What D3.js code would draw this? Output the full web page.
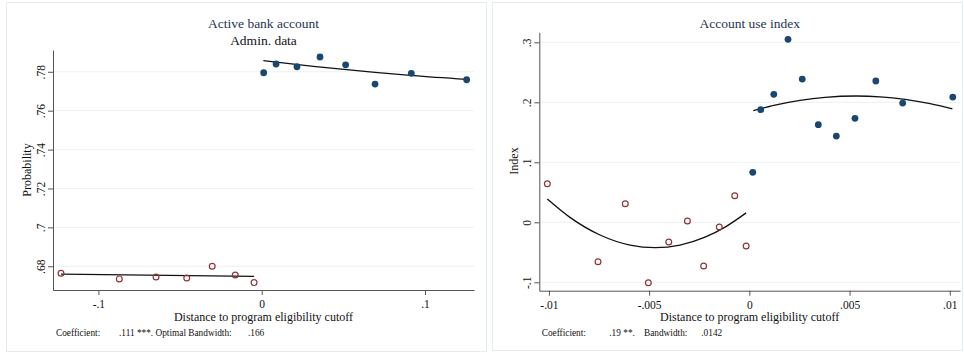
<!DOCTYPE html>
<html>
<head>
<meta charset="utf-8">
<script src="https://cdn.jsdelivr.net/npm/d3@7/dist/d3.min.js"></script>
<style>
  html, body { margin: 0; padding: 0; background: #fff; }
  svg { display: block; font-family: "Liberation Serif", "Times New Roman", serif; }
</style>
</head>
<body>
<svg id="chart" width="964" height="354"></svg>
<script>
// ---- Panel A: active bank account (admin. data) ----
const bankBelowX = [-0.1229, -0.0872, -0.0647, -0.0459, -0.0303, -0.0162, -0.0047];
const bankBelowY = [0.6764, 0.6735, 0.6745, 0.6740, 0.6800, 0.6755, 0.6716];
const bankAboveX = [0.0012, 0.0088, 0.0216, 0.0357, 0.0514, 0.0694, 0.0916, 0.1255];
const bankAboveY = [0.7795, 0.7840, 0.7826, 0.7876, 0.7836, 0.7737, 0.7792, 0.7759];
const bankFitBelowX = [-0.1229, -0.0047];
const bankFitBelowY = [0.6760, 0.6748];
const bankFitAboveX = [0.0010, 0.0316, 0.0694, 0.0928, 0.1255];
const bankFitAboveY = [0.7857, 0.7828, 0.7797, 0.7780, 0.7761];
const bankXTicks = [-0.1, 0, 0.1];
const bankXLabels = ["-.1", "0", ".1"];
const bankYTicks = [0.68, 0.70, 0.72, 0.74, 0.76, 0.78];
const bankYLabels = [".68", ".7", ".72", ".74", ".76", ".78"];

// ---- Panel B: account use index ----
const useBelowX = [-0.01008, -0.00755, -0.00619, -0.00504, -0.00402, -0.00309, -0.00228, -0.00150, -0.00073, -0.00016];
const useBelowY = [0.0643, -0.0657, 0.0310, -0.1007, -0.0328, 0.0022, -0.0728, -0.0078, 0.0443, -0.0395];
const useAboveX = [0.00017, 0.00057, 0.00122, 0.00193, 0.00264, 0.00344, 0.00434, 0.00527, 0.00631, 0.00765, 0.01015];
const useAboveY = [0.0833, 0.1877, 0.2133, 0.3050, 0.2388, 0.1627, 0.1438, 0.1733, 0.2355, 0.1988, 0.2088];
const useFitBelowX = [-0.01008, -0.00895, -0.00745, -0.00595, -0.00470, -0.00346, -0.00221, -0.00121, -0.00016];
const useFitBelowY = [0.0388, 0.0082, -0.0212, -0.0380, -0.0423, -0.0380, -0.0248, -0.0080, 0.0157];
const useFitAboveX = [0.00020, 0.00128, 0.00253, 0.00378, 0.00533, 0.00652, 0.00777, 0.00902, 0.01013];
const useFitAboveY = [0.1860, 0.1953, 0.2032, 0.2083, 0.2105, 0.2092, 0.2050, 0.1978, 0.1890];
const useXTicks = [-0.01, -0.005, 0, 0.005, 0.01];
const useXLabels = ["-.01", "-.005", "0", ".005", ".01"];
const useYTicks = [-0.1, 0, 0.1, 0.2, 0.3];
const useYLabels = ["-.1", "0", ".1", ".2", ".3"];

const COL_ABOVE = "#1a476f";
const COL_BELOW = "#90353b";
const COL_GRID = "#eaf2f3";
const COL_AXIS = "#555";
const COL_TITLE = "#1e3350";

const zip = (xs, ys) => xs.map((x, i) => ({ x, y: ys[i] }));

const svg = d3.select("#chart");

function drawPanel(p) {
  const g = svg.append("g");

  // outer frame
  g.append("rect")
    .attr("x", p.frame[0] + 0.5).attr("y", p.frame[1] + 0.5)
    .attr("width", p.frame[2]).attr("height", p.frame[3])
    .attr("fill", "#fff").attr("stroke", "#e4ecee").attr("stroke-width", 1);

  const x = d3.scaleLinear().domain(p.xDomain).range([p.plot.left, p.plot.right]);
  const y = d3.scaleLinear().domain(p.yDomain).range([p.plot.bottom, p.plot.top]);

  // horizontal gridlines
  g.append("g").selectAll("line").data(p.yTicks).join("line")
    .attr("x1", p.plot.left).attr("x2", p.plot.right)
    .attr("y1", d => y(d)).attr("y2", d => y(d))
    .attr("stroke", COL_GRID).attr("stroke-width", 1);

  // x axis
  const xa = g.append("g")
    .attr("transform", `translate(0,${p.plot.bottom})`)
    .call(d3.axisBottom(x).tickValues(p.xTicks)
      .tickFormat((d, i) => p.xLabels[i]).tickSize(5).tickSizeOuter(0));
  xa.select(".domain").attr("stroke", COL_AXIS);
  xa.selectAll(".tick line").attr("stroke", COL_AXIS);
  xa.selectAll(".tick text")
    .attr("y", 10).attr("dy", "0.71em")
    .attr("fill", "#111").style("font-size", "11.5px")
    .style("font-family", "Liberation Serif, serif");

  // y axis with vertical tick labels
  const ya = g.append("g")
    .attr("transform", `translate(${p.plot.left},0)`)
    .call(d3.axisLeft(y).tickValues(p.yTicks)
      .tickFormat((d, i) => p.yLabels[i]).tickSize(5).tickSizeOuter(0));
  ya.select(".domain").attr("stroke", COL_AXIS);
  ya.selectAll(".tick line").attr("stroke", COL_AXIS);
  ya.selectAll(".tick text")
    .attr("x", 0).attr("dy", "0.35em")
    .attr("text-anchor", "middle")
    .attr("transform", "translate(-12,0) rotate(-90)")
    .attr("fill", "#111").style("font-size", "11.5px")
    .style("font-family", "Liberation Serif, serif");

  // fitted curves on each side of the cutoff
  const line = d3.line().x(d => x(d.x)).y(d => y(d.y)).curve(d3.curveMonotoneX);
  [p.fitBelow, p.fitAbove].forEach(pts => {
    g.append("path").datum(pts)
      .attr("d", line).attr("fill", "none")
      .attr("stroke", "#111").attr("stroke-width", 1.3);
  });

  // binned means
  g.append("g").selectAll("circle").data(p.below).join("circle")
    .attr("cx", d => x(d.x)).attr("cy", d => y(d.y)).attr("r", 2.9)
    .attr("fill", "none").attr("stroke", COL_BELOW).attr("stroke-width", 1.2);
  g.append("g").selectAll("circle").data(p.above).join("circle")
    .attr("cx", d => x(d.x)).attr("cy", d => y(d.y)).attr("r", 3.4)
    .attr("fill", COL_ABOVE);

  const cx = (p.plot.left + p.plot.right) / 2;

  // titles
  p.titles.forEach((t, i) => {
    g.append("text").attr("x", cx).attr("y", 27.5 + i * 17.3)
      .attr("text-anchor", "middle")
      .attr("fill", i === 0 ? COL_TITLE : "#111")
      .style("font-size", "13.5px").text(t);
  });

  // axis titles
  g.append("text").attr("x", cx).attr("y", 321)
    .attr("text-anchor", "middle").attr("fill", "#111")
    .style("font-size", "12px").text("Distance to program eligibility cutoff");
  g.append("text")
    .attr("transform", `translate(${p.yTitleX},${p.yTitleY}) rotate(-90)`)
    .attr("dy", "0.35em").attr("text-anchor", "middle").attr("fill", "#111")
    .style("font-size", "12px").text(p.yTitle);

  // estimation note
  const note = g.append("text").attr("y", 335.5).attr("fill", "#111")
    .style("font-size", "9.3px");
  p.note.forEach(n => note.append("tspan").attr("x", n.at).text(n.text));
}

drawPanel({
  frame: [6, 2, 480, 349],
  plot: { left: 53, right: 474, top: 50, bottom: 290 },
  xDomain: [-0.1278, 0.130], yDomain: [0.6678, 0.7912],
  xTicks: bankXTicks, xLabels: bankXLabels,
  yTicks: bankYTicks, yLabels: bankYLabels,
  below: zip(bankBelowX, bankBelowY), above: zip(bankAboveX, bankAboveY),
  fitBelow: zip(bankFitBelowX, bankFitBelowY), fitAbove: zip(bankFitAboveX, bankFitAboveY),
  titles: ["Active bank account", "Admin. data"],
  yTitle: "Probability", yTitleX: 27, yTitleY: 170,
  note: [
    { at: 56, text: "Coefficient:" },
    { at: 119, text: ".111 ***. Optimal Bandwidth:" },
    { at: 248, text: ".166" }
  ]
});

drawPanel({
  frame: [492, 2, 470, 348],
  plot: { left: 539.3, right: 960, top: 32.3, bottom: 290.7 },
  xDomain: [-0.01048, 0.01051], yDomain: [-0.114, 0.3167],
  xTicks: useXTicks, xLabels: useXLabels,
  yTicks: useYTicks, yLabels: useYLabels,
  below: zip(useBelowX, useBelowY), above: zip(useAboveX, useAboveY),
  fitBelow: zip(useFitBelowX, useFitBelowY), fitAbove: zip(useFitAboveX, useFitAboveY),
  titles: ["Account use index"],
  yTitle: "Index", yTitleX: 513.5, yTitleY: 161,
  note: [
    { at: 541.7, text: "Coefficient:" },
    { at: 609.3, text: ".19 **." },
    { at: 644, text: "Bandwidth:" },
    { at: 701.3, text: ".0142" }
  ]
});
</script>
</body>
</html>
